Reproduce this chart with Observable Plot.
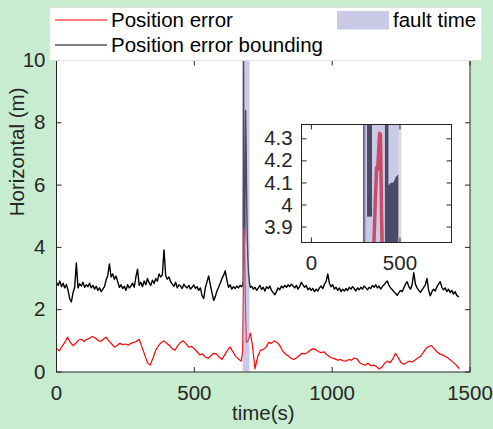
<!DOCTYPE html>
<html><head><meta charset="utf-8">
<script src="https://cdn.jsdelivr.net/npm/d3@7"></script>
<script src="https://cdn.jsdelivr.net/npm/@observablehq/plot@0.6"></script>
<style>
html,body{margin:0;padding:0;background:#c8ecd0;}
#wrap{position:relative;width:493px;height:429px;overflow:hidden;}
#wrap svg{position:absolute;}
</style></head><body><div id="wrap"></div>
<script>
// ---------- data ----------
const xTicks = [0, 500, 1000, 1500];
const yTicks = [0, 2, 4, 6, 8, 10];
const xLabel = "time(s)";
const yLabel = "Horizontal (m)";
const legendLabels = ["Position error", "Position error bounding", "fault time"];

// Position error bounding (black), sampled every 6 s
const boundTimeBefore = d3.range(0, 678, 6);
const boundBefore = [
  2.87, 2.78, 2.92, 2.74, 2.85, 2.70, 2.81, 2.62, 2.35, 2.25,
  2.55, 2.72, 3.50, 2.70, 2.83, 2.76, 2.88, 2.72, 2.80, 2.74,
  2.85, 2.70, 2.78, 2.66, 2.75, 2.62, 2.70, 2.58, 2.66, 2.74,
  2.95, 3.10, 3.47, 3.05, 3.15, 2.98, 3.08, 2.90, 2.72, 2.80,
  2.68, 2.75, 2.62, 2.80, 2.70, 2.76, 2.85, 2.72, 3.05, 3.30,
  2.78, 2.88, 2.74, 2.92, 2.80, 3.00, 2.86, 2.78, 2.95, 2.84,
  3.00, 2.92, 3.15, 3.05, 3.12, 3.92, 3.10, 2.98, 3.05, 2.90,
  2.82, 2.75, 2.88, 2.70, 2.80, 2.76, 2.68, 2.82, 2.74, 2.70,
  2.78, 2.66, 2.72, 2.80, 2.68, 2.74, 2.62, 2.70, 2.45, 2.36,
  2.70, 2.90, 3.08, 2.80, 2.55, 2.30, 2.42, 2.60, 2.72, 2.85,
  3.00, 3.10, 3.25, 2.95, 2.72, 2.80, 2.66, 2.74, 2.68, 2.76,
  2.70, 2.78, 2.74
];
const faultBoundTime  = [675, 677.5, 678.5, 680, 683, 686, 688, 690, 692, 694, 697, 700, 703];
const faultBoundValue = [2.78, 2.9, 11, 3.9, 4.3, 8.4, 7.2, 5.5, 4.4, 3.7, 3.1, 2.85, 2.72];
const boundTimeAfter = d3.range(708, 1464, 6);
const boundAfter = [
  2.75, 2.66, 2.72, 2.62, 2.70, 2.78, 2.65, 2.72, 2.60, 2.74,
  2.68, 2.76, 2.62, 2.55, 2.48, 2.58, 2.70, 2.64, 2.76, 2.70,
  2.78, 2.72, 2.80, 2.74, 2.82, 2.76, 2.70, 2.78, 2.66, 2.74,
  2.88, 2.80, 2.72, 2.78, 2.64, 2.70, 2.62, 2.68, 2.58, 2.66,
  2.60, 2.70, 2.76, 2.68, 2.82, 2.90, 3.15, 2.85, 2.74, 2.80,
  2.66, 2.72, 2.62, 2.70, 2.58, 2.66, 2.60, 2.68, 2.62, 2.72,
  2.66, 2.74, 2.68, 2.60, 2.70, 2.64, 2.72, 2.66, 2.76, 2.70,
  2.64, 2.72, 2.68, 2.78, 2.72, 2.80, 2.70, 2.76, 2.66, 2.74,
  2.80, 2.86, 2.92, 2.78, 2.70, 2.64, 2.58, 2.52, 2.46, 2.55,
  2.62, 2.58, 2.70, 2.82, 2.90, 2.74, 2.66, 2.80, 3.19, 2.82,
  2.70, 2.62, 2.56, 2.64, 2.72, 2.80, 3.00, 2.62, 2.45, 2.58,
  2.66, 2.60, 2.74, 2.82, 2.90, 2.72, 2.64, 2.70, 2.58, 2.66,
  2.55, 2.62, 2.50, 2.58, 2.46, 2.42
];

// Position error (red), sampled every 10 s
const errTimeBefore = d3.range(0, 680, 10);
const errBefore = [
  0.75, 0.68, 0.82, 0.95, 1.12, 0.95, 0.85, 0.92, 1.02, 1.05,
  0.98, 1.05, 1.08, 1.14, 1.10, 1.02, 0.98, 1.05, 1.12, 1.00,
  0.90, 0.80, 0.85, 0.92, 0.88, 0.90, 0.86, 0.92, 0.95, 0.98,
  1.05, 0.80, 0.55, 0.30, 0.22, 0.45, 0.70, 0.85, 0.95, 1.00,
  0.92, 0.85, 0.75, 0.70, 0.85, 0.95, 1.00, 0.90, 0.80, 0.82,
  0.75, 0.65, 0.55, 0.58, 0.48, 0.44, 0.52, 0.60, 0.58, 0.48,
  0.40, 0.55, 0.70, 0.80, 0.65, 0.50, 0.42, 0.35
];
const faultErrTime  = [675, 678, 680, 682, 684, 686, 689, 693, 697, 700, 703];
const faultErrValue = [0.62, 2.5, 4.6, 4.3, 3.0, 1.8, 0.95, 0.98, 1.05, 1.15, 1.25];
const errTimeAfter = d3.range(710, 1470, 10);
const errAfter = [
  0.90, 0.10, 0.50, 0.70, 0.72, 0.80, 0.95, 0.92, 1.00, 0.95,
  0.85, 0.68, 0.58, 0.52, 0.45, 0.40, 0.45, 0.52, 0.60, 0.58,
  0.62, 0.70, 0.75, 0.72, 0.66, 0.62, 0.65, 0.56, 0.50, 0.45,
  0.42, 0.38, 0.40, 0.36, 0.35, 0.40, 0.38, 0.45, 0.42, 0.30,
  0.25, 0.22, 0.28, 0.20, 0.22, 0.18, 0.10, 0.15, 0.28, 0.35,
  0.30, 0.42, 0.60, 0.45, 0.30, 0.25, 0.30, 0.35, 0.32, 0.38,
  0.45, 0.50, 0.62, 0.75, 0.82, 0.85, 0.75, 0.65, 0.58, 0.55,
  0.50, 0.45, 0.38, 0.30, 0.22, 0.12
];

const faultStart = [677];
const faultEnd = [702];

// Inset (zoomed view)
const insetXTicks = [0, 500];
const insetYTicks = [3.9, 4, 4.1, 4.2, 4.3];
const insetXDomain = [-56, 791];
const insetYDomain = [3.83, 4.365];
const insetFaultStart = [300];
const insetFaultEnd = [500];
const insetEdgeX = [298];
const insetStrokeX = [328, 425];
const insetStrokeLow = [3.945, 3.80];
const insetStrokeHigh = [4.40, 4.40];
const insetBlockX = [434, 440, 449, 458, 466, 473, 480, 487, 494, 496];
const insetBlockTop = [4.085, 4.089, 4.097, 4.10, 4.10, 4.112, 4.126, 4.132, 4.137, 4.13];
const insetErrX = [352, 360, 368, 374, 380, 385, 390, 393, 396, 400];
const insetErrY = [3.80, 4.00, 4.17, 4.16, 4.25, 4.325, 4.32, 4.15, 3.95, 3.80];

// ---------- drawing ----------
const FONT = '"Liberation Sans", Arial, Helvetica, sans-serif';
const FS = "20.5px";
const AX = "#262626";
const bandFill = "rgb(150,150,208)";
const tickUp = {draw(c){c.moveTo(0,0); c.lineTo(0,-5);}};
const tickDown = {draw(c){c.moveTo(0,0); c.lineTo(0,5);}};
const tickRight = {draw(c){c.moveTo(0,0); c.lineTo(5,0);}};
const tickLeft = {draw(c){c.moveTo(0,0); c.lineTo(-5,0);}};

const boundData = [
  ...boundTimeBefore.map((t,i)=>({t, v: boundBefore[i]})),
  ...faultBoundTime.map((t,i)=>({t, v: faultBoundValue[i]})),
  ...boundTimeAfter.map((t,i)=>({t, v: boundAfter[i]}))
];
const errData = [
  ...errTimeBefore.map((t,i)=>({t, v: errBefore[i]})),
  ...faultErrTime.map((t,i)=>({t, v: faultErrValue[i]})),
  ...errTimeAfter.map((t,i)=>({t, v: errAfter[i]}))
];
const faultSpan = faultStart.map((s,i)=>({start: s, end: faultEnd[i]}));

const tickMarks = (xt, yt) => {
  const mk = (s) => ({fill: "none", stroke: AX, strokeWidth: 1, symbol: s});
  return [
    Plot.dot(xt, {x: d=>d, frameAnchor: "bottom", ...mk(tickUp)}),
    Plot.dot(xt, {x: d=>d, frameAnchor: "top", ...mk(tickDown)}),
    Plot.dot(yt, {y: d=>d, frameAnchor: "left", ...mk(tickRight)}),
    Plot.dot(yt, {y: d=>d, frameAnchor: "right", ...mk(tickLeft)})
  ];
};

const main = Plot.plot({
  width: 493, height: 429,
  marginLeft: 56, marginRight: 23.5, marginTop: 60, marginBottom: 57.5,
  x: {domain: [0, 1500]},
  y: {domain: [0, 10]},
  style: {background: "transparent", fontFamily: FONT, fontSize: FS, color: AX, overflow: "visible"},
  marks: [
    Plot.frame({fill: "white", stroke: "none"}),
    Plot.line(boundData, {x: "t", y: "v", stroke: "black", strokeWidth: 1.4, clip: true}),
    Plot.line(errData, {x: "t", y: "v", stroke: "#ff0000", strokeWidth: 1.2, clip: true}),
    Plot.rect(faultSpan, {x1: "start", x2: "end", y1: 0, y2: 10, fill: bandFill, fillOpacity: 0.5}),
    Plot.frame({stroke: AX, strokeWidth: 1}),
    ...tickMarks(xTicks, yTicks),
    Plot.axisX(xTicks, {tickSize: 0, tickPadding: 13.9, tickFormat: d=>String(d), label: null}),
    Plot.axisY(yTicks, {tickSize: 0, tickPadding: 11, tickFormat: d=>String(d), label: null}),
    Plot.text([xLabel], {frameAnchor: "bottom", dy: 47.5, text: d=>d}),
    Plot.text([yLabel], {frameAnchor: "left", dx: -39, rotate: -90, text: d=>d})
  ]
});
main.style.left = "0px"; main.style.top = "0px";
document.getElementById("wrap").appendChild(main);

// inset
const inset = Plot.plot({
  width: 198, height: 153,
  marginLeft: 45, marginRight: 3, marginTop: 3, marginBottom: 32,
  x: {domain: insetXDomain},
  y: {domain: insetYDomain},
  style: {background: "transparent", fontFamily: FONT, fontSize: FS, color: AX, overflow: "visible"},
  marks: [
    Plot.frame({fill: "white", stroke: "none"}),
    Plot.ruleX(insetEdgeX, {x: d=>d, y1: insetYDomain[0], y2: insetYDomain[1], stroke: "#6e6e6e", strokeWidth: 2.5}),
    Plot.ruleX(insetStrokeX.slice(0,1), {x: d=>d, y1: insetStrokeLow[0], y2: insetStrokeHigh[0], stroke: "black", strokeWidth: 5, clip: true}),
    Plot.ruleX(insetStrokeX.slice(1), {x: d=>d, y1: insetStrokeLow[1], y2: insetStrokeHigh[1], stroke: "black", strokeWidth: 3.5, clip: true}),
    Plot.areaY(insetBlockX.map((x,i)=>({x, y: insetBlockTop[i]})), {x: "x", y1: 3.7, y2: "y", fill: "black", clip: true}),
    Plot.line(insetErrX.map((x,i)=>({x, y: insetErrY[i]})), {x: "x", y: "y", stroke: "#ff0000", strokeWidth: 3.5, clip: true}),
    Plot.rect(insetFaultStart.map((s,i)=>({start: s, end: insetFaultEnd[i]})), {x1: "start", x2: "end", y1: insetYDomain[0], y2: insetYDomain[1], fill: bandFill, fillOpacity: 0.5}),
    Plot.ruleX(insetFaultEnd, {x: d=>d, y1: insetYDomain[0], y2: insetYDomain[1], stroke: "#dcdcdc", strokeWidth: 3}),
    Plot.frame({stroke: AX, strokeWidth: 1}),
    ...tickMarks(insetXTicks, insetYTicks),
    Plot.axisX(insetXTicks, {tickSize: 0, tickPadding: 13.4, tickFormat: d=>String(d), label: null}),
    Plot.axisY(insetYTicks, {tickSize: 0, tickPadding: 8.8, tickFormat: d=>String(d), label: null})
  ]
});
inset.style.left = "255.5px"; inset.style.top = "121px";
document.getElementById("wrap").appendChild(inset);

// legend
const lg = d3.select("#wrap").append("svg")
  .attr("width", 493).attr("height", 70)
  .style("left", "0px").style("top", "0px")
  .style("font-family", FONT).style("font-size", FS);
lg.append("rect").attr("x", 49.5).attr("y", 7.5).attr("width", 432).attr("height", 53)
  .attr("fill", "white").attr("stroke", "#e3e3e3");
lg.append("line").attr("x1", 55).attr("x2", 107).attr("y1", 20).attr("y2", 20).attr("stroke", "#ff0000");
lg.append("text").attr("x", 111).attr("y", 27.3).attr("fill", "#000").text(legendLabels[0]);
lg.append("line").attr("x1", 55).attr("x2", 107).attr("y1", 45).attr("y2", 45).attr("stroke", "#000");
lg.append("text").attr("x", 111).attr("y", 52.3).attr("fill", "#000").text(legendLabels[1]);
lg.append("rect").attr("x", 337).attr("y", 11).attr("width", 52).attr("height", 18.5)
  .attr("fill", bandFill).attr("fill-opacity", 0.5);
lg.append("text").attr("x", 393).attr("y", 26.7).attr("fill", "#000").text(legendLabels[2]);
</script></body></html>
